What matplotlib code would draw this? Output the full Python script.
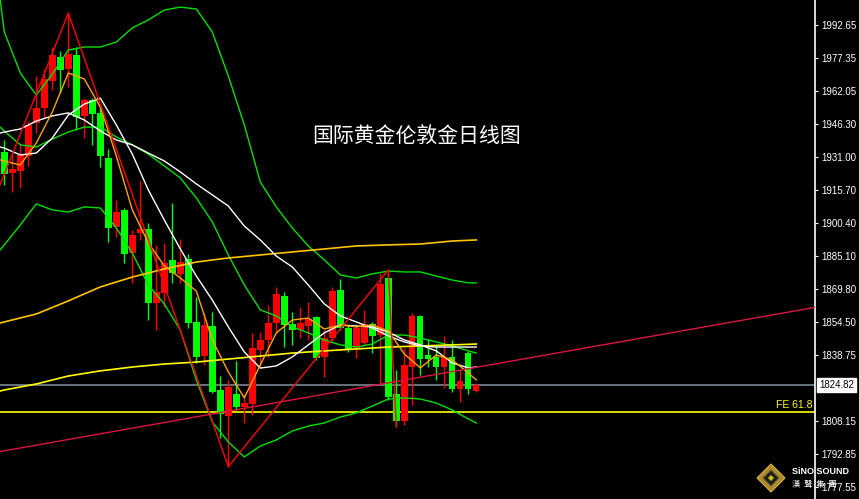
import matplotlib
matplotlib.use("Agg")
import matplotlib.pyplot as plt
from matplotlib.patches import Polygon
import numpy as np

# London gold daily candles (oldest first)
opens = [1933.6, 1923.7, 1924.6, 1931.6, 1947.1, 1954.1, 1966.7, 1977.9, 1972.0, 1978.5,
         1950.3, 1957.7, 1951.7, 1930.7, 1898.7, 1906.5, 1886.4, 1895.8, 1897.6, 1863.3,
         1867.9, 1883.2, 1876.7, 1883.5, 1854.4, 1838.5, 1852.4, 1822.6, 1810.6, 1820.7,
         1814.6, 1816.1, 1841.2, 1845.9, 1854.0, 1866.4, 1853.4, 1850.6, 1852.4, 1856.8,
         1837.8, 1846.7, 1869.2, 1851.4, 1842.0, 1844.4, 1853.4, 1848.2, 1874.7, 1820.7,
         1808.3, 1833.2, 1857.1, 1838.9, 1837.8, 1833.2, 1837.8, 1822.9, 1840.0, 1822.3]
highs = [1939.1, 1933.0, 1937.7, 1947.9, 1968.9, 1972.2, 1982.4, 1980.5, 1998.2, 1982.4,
         1958.6, 1958.6, 1954.6, 1934.9, 1911.1, 1907.4, 1897.2, 1920.1, 1900.4, 1890.2,
         1891.1, 1909.7, 1893.0, 1886.0, 1865.9, 1858.5, 1859.1, 1829.1, 1827.3, 1836.3,
         1820.7, 1849.2, 1849.8, 1862.2, 1870.5, 1868.4, 1859.1, 1861.3, 1863.7, 1857.1,
         1850.6, 1870.7, 1874.2, 1852.9, 1853.4, 1859.9, 1854.4, 1877.0, 1877.1, 1831.9,
         1842.0, 1858.3, 1857.6, 1846.2, 1843.6, 1847.8, 1845.9, 1831.9, 1840.9, 1826.0]
lows = [1918.1, 1915.0, 1916.7, 1927.0, 1942.5, 1949.3, 1962.4, 1961.0, 1963.9, 1943.7,
        1940.0, 1936.8, 1926.6, 1891.7, 1894.0, 1881.8, 1872.5, 1892.5, 1855.2, 1850.6,
        1861.4, 1872.6, 1872.5, 1851.5, 1835.2, 1834.3, 1821.2, 1800.3, 1786.9, 1813.3,
        1807.4, 1811.0, 1832.9, 1838.1, 1849.0, 1842.8, 1843.6, 1846.8, 1845.9, 1836.6,
        1828.5, 1845.1, 1850.6, 1840.5, 1837.4, 1843.6, 1840.0, 1824.9, 1818.0, 1805.5,
        1806.3, 1815.6, 1829.6, 1833.5, 1827.3, 1823.4, 1821.8, 1817.2, 1820.7, 1821.8]
closes = [1923.2, 1925.6, 1932.1, 1946.1, 1954.1, 1967.4, 1978.7, 1971.7, 1979.1, 1949.9,
          1957.7, 1951.2, 1931.6, 1898.1, 1905.7, 1886.0, 1894.8, 1897.6, 1863.1, 1868.4,
          1881.8, 1877.1, 1882.4, 1853.7, 1837.8, 1852.9, 1821.8, 1811.4, 1824.1, 1814.8,
          1816.7, 1842.3, 1845.9, 1854.0, 1867.2, 1852.9, 1850.6, 1854.0, 1855.7, 1837.4,
          1846.7, 1868.9, 1851.4, 1841.6, 1851.4, 1853.4, 1847.8, 1872.0, 1819.2, 1808.3,
          1834.3, 1857.1, 1837.1, 1836.9, 1833.2, 1837.8, 1822.9, 1826.8, 1822.9, 1824.9]

# indicator lines, sampled every 2 bars (first point = left edge)
ind_x = [-0.54] + list(range(0, 59, 2)) + [59]
bb_upper = [2005.0, 1989.4, 1970.3, 1960.0, 1969.8, 1981.0, 1982.4, 1982.4, 1984.7, 1991.3,
            1995.0, 1999.6, 2001.0, 2000.1, 1989.4, 1968.9, 1946.1, 1919.5, 1907.9, 1898.1,
            1889.7, 1883.2, 1876.2, 1874.8, 1876.7, 1878.0, 1877.6, 1877.6, 1875.7, 1873.8,
            1872.5, 1872.5]
bb_mid = [1945.1, 1943.3, 1936.8, 1935.8, 1939.5, 1942.8, 1945.1, 1945.1, 1940.5, 1936.8,
          1932.5, 1927.0, 1921.4, 1912.1, 1900.9, 1885.5, 1871.5, 1859.9, 1857.1, 1852.0,
          1849.2, 1845.9, 1843.6, 1842.6, 1844.0, 1848.2, 1848.2, 1846.8, 1845.0, 1843.1,
          1840.8, 1839.8]
bb_lower = [1887.8, 1890.2, 1899.5, 1909.3, 1906.5, 1905.5, 1907.9, 1907.4, 1898.1, 1886.4,
            1871.5, 1862.7, 1850.5, 1827.3, 1807.7, 1798.4, 1791.4, 1796.5, 1799.3, 1803.5,
            1805.8, 1807.2, 1810.0, 1811.9, 1815.1, 1818.4, 1818.9, 1818.4, 1816.5, 1813.3,
            1809.1, 1807.2]
ma_orange = [1929.8, 1929.3, 1927.4, 1937.7, 1952.1, 1970.3, 1967.5, 1954.4, 1931.6, 1906.5,
             1891.1, 1880.4, 1874.8, 1868.7, 1845.9, 1831.0, 1818.9, 1834.3, 1849.2, 1855.2,
             1856.1, 1851.0, 1852.9, 1852.0, 1852.9, 1850.1, 1839.4, 1832.9, 1838.9, 1836.6,
             1830.5, 1827.3]
ma_white_fast = [1935.8, 1935.3, 1932.1, 1933.0, 1940.0, 1950.7, 1955.8, 1958.6, 1946.1, 1932.5,
                 1915.8, 1901.8, 1888.3, 1875.7, 1864.5, 1852.0, 1840.3, 1832.8, 1833.8, 1838.0,
                 1843.6, 1849.2, 1852.9, 1852.4, 1852.0, 1849.6, 1845.9, 1843.6, 1840.8, 1835.2,
                 1832.9, 1833.3]
ma_white_slow = [1942.3, 1942.8, 1944.2, 1947.9, 1950.3, 1951.7, 1948.4, 1943.3, 1939.1, 1936.8,
                 1933.0, 1929.3, 1924.2, 1918.6, 1913.5, 1908.3, 1899.0, 1892.5, 1885.0, 1879.9,
                 1871.5, 1862.7, 1857.1, 1854.3, 1851.5, 1847.8, 1845.0, 1843.1, 1842.6, 1842.6,
                 1842.6, 1842.6]

# long moving averages, sampled every 4 bars
long_x = [-0.54] + list(range(0, 57, 4)) + [59]
ma_gold = [1853.8, 1854.3, 1858.0, 1864.1, 1870.6, 1875.2, 1879.0, 1882.2, 1884.1, 1885.5,
           1886.9, 1888.3, 1889.7, 1890.2, 1890.6, 1892.0, 1892.5]
ma_yellow = [1822.1, 1822.6, 1825.4, 1829.1, 1831.5, 1833.3, 1834.7, 1835.6, 1837.0, 1838.4,
             1839.8, 1840.8, 1841.7, 1842.6, 1843.1, 1843.6, 1844.0]

# zigzag swing points (bar index, price)
zz_x = [-0.54, 8, 28, 48, 49]
zz_y = [1918.1, 1998.2, 1786.9, 1878.5, 1805.5]

# trendline anchors
trend_x = [-0.54, 101.34]
trend_y = [1793.9, 1861.1]

last_price = 1824.82
fe_level = 1812.3

tick_vals = [1992.65, 1977.35, 1962.05, 1946.30, 1931.00, 1915.70, 1900.40, 1885.10,
             1869.80, 1854.50, 1838.75, 1808.15, 1792.85, 1777.55]

fig = plt.figure(figsize=(8.59, 4.99), dpi=100, facecolor="black")
ax = fig.add_axes([0, 0, 815 / 859, 1])
ax.set_facecolor("black")
ax.set_xlim(-0.54, 101.34)
ax.set_ylim(1771.8, 2004.3)

idx = np.arange(len(opens))
o = np.array(opens)
c = np.array(closes)
up = c >= o
col = np.where(up, "#FF0000", "#00FF00")
bottoms = np.minimum(o, c)
heights = np.maximum(np.abs(c - o), 0.6)
ax.vlines(idx, lows, highs, colors=col, lw=1.0, zorder=2)
ax.bar(idx, heights, bottom=bottoms, width=0.8, color=col, linewidth=0, zorder=3)

# overlays
ax.plot(ind_x, bb_upper, color="#00E000", lw=1.0, zorder=4)
ax.plot(ind_x, bb_mid, color="#00E000", lw=1.0, zorder=4)
ax.plot(ind_x, bb_lower, color="#00E000", lw=1.0, zorder=4)
ax.plot(long_x, ma_gold, color="#FFC400", lw=1.2, zorder=4)
ax.plot(long_x, ma_yellow, color="#FFFF00", lw=1.2, zorder=4)
ax.plot(ind_x, ma_white_slow, color="white", lw=1.0, zorder=4)
ax.plot(ind_x, ma_white_fast, color="white", lw=1.0, zorder=4)
ax.plot(ind_x, ma_orange, color="#FFA500", lw=1.0, zorder=4)
ax.plot(zz_x, zz_y, color="#FF0000", lw=1.0, zorder=5)
ax.plot(trend_x, trend_y, color="#DC143C", lw=1.0, zorder=5)

ax.axhline(last_price, color="#778899", lw=1.2, zorder=1)
ax.axhline(fe_level, color="#FFFF00", lw=1.2, zorder=1)
ax.text(0.997, fe_level + 1.0, "FE 61.8", color="#FFFF00", fontsize=7.5,
        family="Liberation Sans", ha="right", va="bottom", transform=ax.get_yaxis_transform())

# right price axis
for s in ["left", "top", "bottom"]:
    ax.spines[s].set_visible(False)
ax.spines["right"].set_color("white")
ax.spines["right"].set_linewidth(1.2)
ax.yaxis.tick_right()
ax.set_yticks(tick_vals)
ax.set_yticklabels([f"{v:.2f}" for v in tick_vals], family="Liberation Sans")
ax.tick_params(axis="y", colors="white", labelsize=7, length=2.5, width=0.8, pad=2)
ax.tick_params(axis="x", bottom=False, labelbottom=False)

ax.text(1.0 + 4 / 815, last_price, f"{last_price:.2f}", color="black", fontsize=7,
        family="Liberation Sans", ha="left", va="center", transform=ax.get_yaxis_transform(),
        clip_on=False, zorder=10,
        bbox=dict(boxstyle="square,pad=0.2", facecolor="white", edgecolor="white"))

# title
fig.text(417 / 859, 1 - 137 / 499, "国际黄金伦敦金日线图", color="white", fontsize=15,
         family=["Noto Sans CJK SC", "DejaVu Sans"], ha="center", va="center")

# logo
cx, cy = 771 / 859, 1 - 478 / 499
for r, fc, ec, z in [(14, "#B08A2E", "#D8B040", 10), (8, "#202010", "#606040", 11), (3, "#C8C020", "none", 12)]:
    fig.patches.append(Polygon([(cx - r / 859, cy), (cx, cy + r / 499), (cx + r / 859, cy), (cx, cy - r / 499)],
                               closed=True, facecolor=fc, edgecolor=ec, lw=0.8,
                               transform=fig.transFigure, zorder=z))
fig.text(792 / 859, 1 - 471 / 499, "SiNO SOUND", color="white", fontsize=6.5, fontweight="bold",
         family="Liberation Sans", ha="left", va="center", zorder=12)
fig.text(792 / 859, 1 - 484 / 499, "漢  聲  集  團", color="white", fontsize=6,
         family=["Noto Sans CJK TC", "DejaVu Sans"], ha="left", va="center", zorder=12)

fig.savefig("out.png", dpi=100, facecolor="black")
